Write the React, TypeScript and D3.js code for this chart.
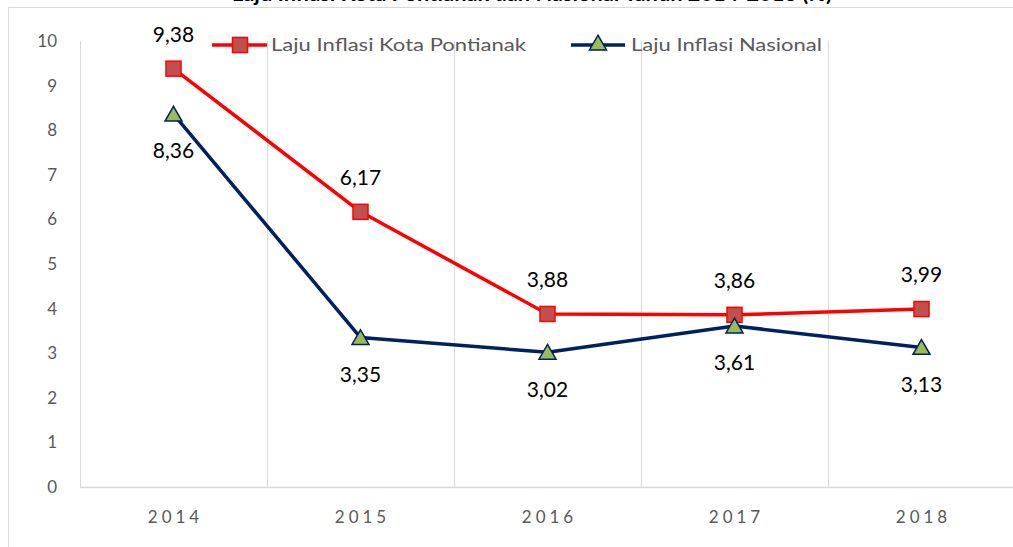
import React from 'react';
import * as d3 from 'd3';

const years = ['2014', '2015', '2016', '2017', '2018'];
const pontianak = [9.38, 6.17, 3.88, 3.86, 3.99];
const nasional = [8.36, 3.35, 3.02, 3.61, 3.13];
const yTicks = [0, 1, 2, 3, 4, 5, 6, 7, 8, 9, 10];
const seriesNames = ['Laju Inflasi Kota Pontianak', 'Laju Inflasi Nasional'];
const title = 'Laju Inflasi Kota Pontianak dan Nasional Tahun 2014-2018 (%)';

const W = 1013;
const H = 547;
const FONT = 'Lato, "Open Sans", sans-serif';

export default function App() {
  const x = d3.scaleBand<string>().domain(years).range([80, 1015]).padding(0);
  const y = d3.scaleLinear().domain([0, 10]).range([487, 41]);
  const cx = (d: string) => (x(d) as number) + x.bandwidth() / 2;
  const fmt = (v: number) => v.toFixed(2).replace('.', ',');

  const line = d3
    .line<number>()
    .x((_, i) => cx(years[i]))
    .y((v) => y(v));

  const tri = d3.symbol().type(d3.symbolTriangle).size(125);

  const gridXs = years.map((d) => x(d) as number).concat([x.range()[1]]);
  const sq = 15;
  const xSpacing = 4;

  return (
    <svg
      width={W}
      height={H}
      style={{ position: 'absolute', left: 0, top: 0, background: '#fff' }}
    >
      <rect x={0} y={0} width={W} height={H} fill="#fff" />
      {/* frame */}
      <line x1={8.5} y1={7.5} x2={W} y2={7.5} stroke="#d9d9d9" strokeWidth={1} />
      <line x1={8.5} y1={7.5} x2={8.5} y2={H} stroke="#d9d9d9" strokeWidth={1} />
      {/* title (cut off at the top, as in the source) */}
      <text
        x={532}
        y={1}
        textAnchor="middle"
        fontFamily={FONT}
        fontWeight="bold"
        fontSize={20}
        textLength={600}
        lengthAdjust="spacingAndGlyphs"
        fill="#000"
      >
        {title}
      </text>

      {/* vertical gridlines */}
      {gridXs.map((gx, i) => (
        <line
          key={'g' + i}
          x1={gx + 0.5}
          x2={gx + 0.5}
          y1={y(10)}
          y2={y(0)}
          stroke="#d9d9d9"
          strokeWidth={1}
        />
      ))}
      {/* x axis line */}
      <line x1={80} x2={1015} y1={y(0) + 0.5} y2={y(0) + 0.5} stroke="#d9d9d9" strokeWidth={1.5} />

      {/* y tick labels */}
      {yTicks.map((t) => (
        <text
          key={'y' + t}
          x={57}
          y={y(t)}
          dy="0.35em"
          textAnchor="end"
          fontFamily={FONT}
          fontSize={17}
          fill="#595959"
        >
          {t}
        </text>
      ))}

      {/* x tick labels */}
      {years.map((d) => (
        <text
          key={'x' + d}
          x={cx(d) + xSpacing / 2}
          y={517}
          dy="0.35em"
          textAnchor="middle"
          fontFamily={FONT}
          fontSize={17}
          letterSpacing={xSpacing}
          fill="#595959"
        >
          {d}
        </text>
      ))}

      {/* lines */}
      <path d={line(pontianak) || ''} fill="none" stroke="#ff0000" strokeWidth={3.5} strokeLinejoin="round" />
      <path d={line(nasional) || ''} fill="none" stroke="#002060" strokeWidth={3.5} strokeLinejoin="round" />

      {/* markers */}
      {pontianak.map((v, i) => (
        <rect
          key={'pm' + i}
          x={cx(years[i]) - sq / 2}
          y={y(v) - sq / 2}
          width={sq}
          height={sq}
          fill="#c0504d"
          stroke="#ff0000"
          strokeWidth={1.5}
        />
      ))}
      {nasional.map((v, i) => (
        <path
          key={'nm' + i}
          d={tri() || ''}
          transform={`translate(${cx(years[i])},${y(v) + 2})`}
          fill="#9bbb59"
          stroke="#002060"
          strokeWidth={1.5}
        />
      ))}

      {/* data labels */}
      {pontianak.map((v, i) => (
        <text
          key={'pl' + i}
          x={cx(years[i])}
          y={y(v) - 34}
          dy="0.35em"
          textAnchor="middle"
          fontFamily={FONT}
          fontSize={21}
          fill="#000"
        >
          {fmt(v)}
        </text>
      ))}
      {nasional.map((v, i) => (
        <text
          key={'nl' + i}
          x={cx(years[i])}
          y={y(v) + 37}
          dy="0.35em"
          textAnchor="middle"
          fontFamily={FONT}
          fontSize={21}
          fill="#000"
        >
          {fmt(v)}
        </text>
      ))}

      {/* legend */}
      <g>
        <line x1={212} x2={267} y1={45} y2={45} stroke="#ff0000" strokeWidth={3.5} />
        <rect x={240 - sq / 2} y={45 - sq / 2} width={sq} height={sq} fill="#c0504d" stroke="#ff0000" strokeWidth={1.5} />
        <text
          x={271}
          y={45}
          dy="0.35em"
          fontFamily={FONT}
          fontSize={18}
          textLength={255}
          lengthAdjust="spacingAndGlyphs"
          fill="#595959"
        >
          {seriesNames[0]}
        </text>
        <line x1={571} x2={625} y1={45} y2={45} stroke="#002060" strokeWidth={3.5} />
        <path
          d={tri() || ''}
          transform="translate(598,45)"
          fill="#9bbb59"
          stroke="#002060"
          strokeWidth={1.5}
        />
        <text
          x={631}
          y={45}
          dy="0.35em"
          fontFamily={FONT}
          fontSize={18}
          textLength={191}
          lengthAdjust="spacingAndGlyphs"
          fill="#595959"
        >
          {seriesNames[1]}
        </text>
      </g>
    </svg>
  );
}
